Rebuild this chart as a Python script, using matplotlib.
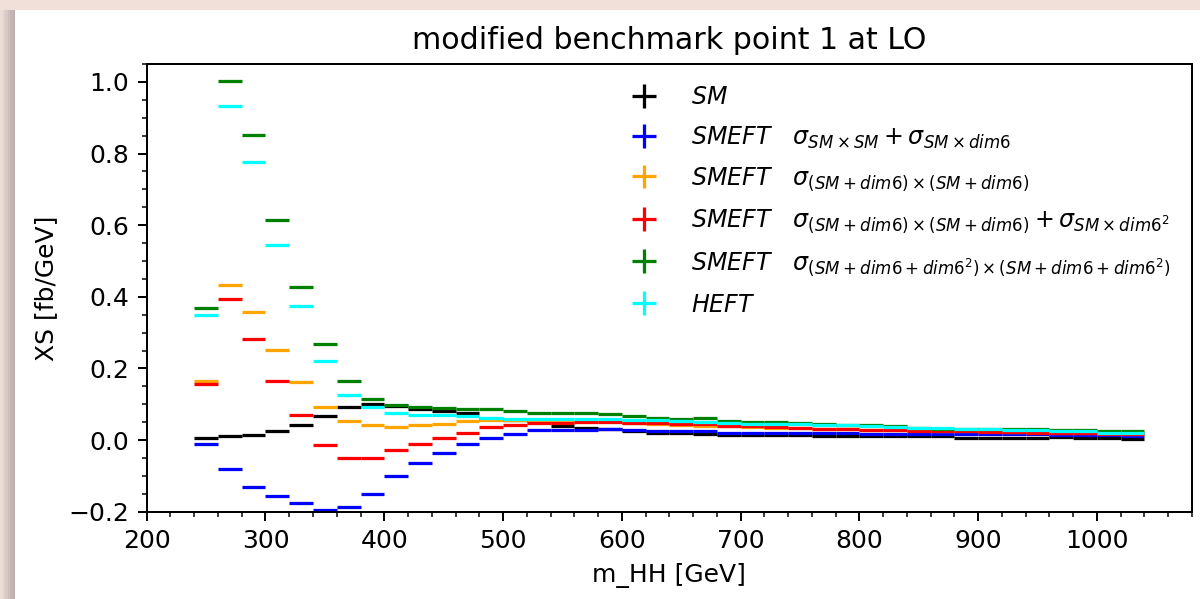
import numpy as np
import matplotlib
matplotlib.use("Agg")
import matplotlib.pyplot as plt
from matplotlib.patches import Rectangle

# ---------------- data ----------------
bin_edges_lo = 240
bin_width = 20
n_bins = 40
bin_centers = [bin_edges_lo + bin_width * (i + 0.5) for i in range(n_bins)]

sm = [0.005, 0.010, 0.015, 0.026, 0.041, 0.066, 0.092, 0.101, 0.095, 0.086,
      0.081, 0.075, 0.059, 0.057, 0.052, 0.040, 0.035, 0.030, 0.024, 0.019,
      0.019, 0.016, 0.014, 0.013, 0.013, 0.013, 0.012, 0.012, 0.011, 0.011,
      0.010, 0.010, 0.006, 0.006, 0.006, 0.006, 0.008, 0.007, 0.007, 0.004]
smeft_lin = [-0.010, -0.081, -0.131, -0.155, -0.176, -0.195, -0.186, -0.150, -0.100, -0.065,
             -0.035, -0.010, 0.006, 0.0165, 0.028, 0.028, 0.028, 0.030, 0.028, 0.024,
             0.024, 0.024, 0.019, 0.019, 0.019, 0.019, 0.019, 0.019, 0.018, 0.018,
             0.018, 0.018, 0.017, 0.017, 0.017, 0.016, 0.015, 0.015, 0.015, 0.010]
smeft_sq = [0.166, 0.433, 0.358, 0.252, 0.162, 0.092, 0.052, 0.0416, 0.036, 0.0416,
            0.046, 0.052, 0.055, 0.055, 0.055, 0.054, 0.053, 0.052, 0.048, 0.045,
            0.042, 0.040, 0.038, 0.036, 0.035, 0.033, 0.032, 0.030, 0.029, 0.028,
            0.027, 0.026, 0.025, 0.024, 0.023, 0.022, 0.021, 0.020, 0.019, 0.018]
smeft_sq_dim62 = [0.156, 0.393, 0.282, 0.166, 0.071, -0.014, -0.050, -0.050, -0.029, -0.010,
                  0.005, 0.021, 0.036, 0.042, 0.047, 0.047, 0.050, 0.050, 0.049, 0.047,
                  0.044, 0.044, 0.040, 0.038, 0.036, 0.034, 0.032, 0.030, 0.029, 0.027,
                  0.026, 0.025, 0.024, 0.023, 0.022, 0.021, 0.020, 0.019, 0.018, 0.017]
smeft_full = [0.368, 1.002, 0.852, 0.615, 0.428, 0.267, 0.166, 0.116, 0.097, 0.091,
              0.089, 0.086, 0.086, 0.081, 0.076, 0.076, 0.076, 0.072, 0.068, 0.063,
              0.059, 0.063, 0.053, 0.051, 0.051, 0.047, 0.046, 0.0425, 0.0425, 0.038,
              0.033, 0.032, 0.032, 0.032, 0.032, 0.030, 0.027, 0.027, 0.025, 0.026]
heft = [0.348, 0.932, 0.776, 0.544, 0.373, 0.222, 0.126, 0.092, 0.076, 0.071,
        0.070, 0.066, 0.061, 0.058, 0.058, 0.058, 0.058, 0.058, 0.057, 0.055,
        0.053, 0.051, 0.049, 0.046, 0.045, 0.044, 0.043, 0.041, 0.040, 0.036,
        0.035, 0.033, 0.031, 0.030, 0.029, 0.027, 0.025, 0.025, 0.021, 0.019]

series = [sm, smeft_lin, smeft_sq, smeft_sq_dim62, smeft_full, heft]
labels = [r'$SM$',
          r'$SMEFT\quad\sigma_{SM\times SM}+\sigma_{SM\times dim6}$',
          r'$SMEFT\quad\sigma_{(SM+dim6)\times(SM+dim6)}$',
          r'$SMEFT\quad\sigma_{(SM+dim6)\times(SM+dim6)}+\sigma_{SM\times dim6^2}$',
          r'$SMEFT\quad\sigma_{(SM+dim6+dim6^2)\times(SM+dim6+dim6^2)}$',
          r'$HEFT$']
colors = ['black', 'blue', 'orange', 'red', 'green', 'cyan']

# ---------------- figure ----------------
DPI = 180
W, H = 1200, 599
fig = plt.figure(figsize=(W / DPI, H / DPI), dpi=DPI)
fig.patch.set_facecolor('#f1dfd9')

# white "page" with a soft left shadow
shadow = ['#ecdcd8', '#e2d3cf', '#d8c9c6', '#cdbfbc', '#c4b6b4', '#bdb0ae']
sw = 15.0 / len(shadow)
for i, c in enumerate(shadow):
    fig.patches.append(Rectangle((i * sw / W, 0), sw / W, (H - 10) / H,
                                 transform=fig.transFigure, facecolor=c,
                                 edgecolor='none', zorder=-2))
fig.patches.append(Rectangle((15 / W, 0), 1 - 15 / W, (H - 10) / H,
                             transform=fig.transFigure, facecolor='white',
                             edgecolor='none', zorder=-1))

ax = fig.add_axes([146.7 / W, 1 - 511.7 / H, (1192 - 146.7) / W, (511.7 - 64) / H])

for vals, lab, col in zip(series, labels, colors):
    ax.errorbar(bin_centers, vals, xerr=bin_width / 2, yerr=np.zeros(len(vals)),
                fmt='none', ecolor=col, elinewidth=1.3, label=lab)

ax.set_xlim(200, 1080)
ax.set_ylim(-0.2, 1.05)
ax.set_xticks(np.arange(200, 1001, 100))
ax.set_yticks(np.arange(-0.2, 1.01, 0.2))
ax.xaxis.set_minor_locator(matplotlib.ticker.MultipleLocator(20))
ax.yaxis.set_minor_locator(matplotlib.ticker.MultipleLocator(0.05))
ax.set_xlabel('m_HH [GeV]')
ax.set_ylabel('XS [fb/GeV]')
ax.set_title('modified benchmark point 1 at LO')
ax.legend(loc='upper right', frameon=False, fontsize=9.5, labelspacing=0.63,
          handletextpad=1.0)

fig.savefig('out.png', dpi=DPI, facecolor=fig.get_facecolor())
